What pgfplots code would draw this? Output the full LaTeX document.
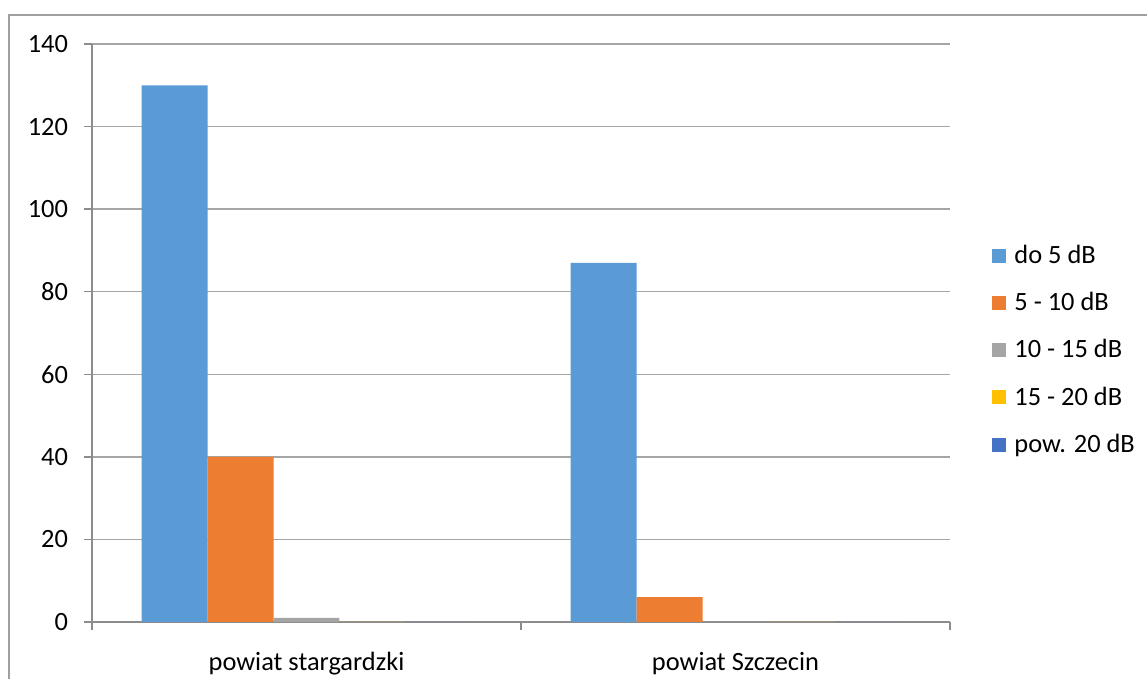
\documentclass[border=0pt]{standalone}
\usepackage{fontspec}
\setmainfont{Carlito}
\usepackage{pgfplots}
\pgfplotsset{compat=1.18}
\definecolor{cA}{HTML}{5B9BD5}
\definecolor{cB}{HTML}{ED7D31}
\definecolor{cC}{HTML}{A5A5A5}
\definecolor{cD}{HTML}{FFC000}
\definecolor{cE}{HTML}{4472C4}
\definecolor{gridc}{HTML}{A6A6A6}
\definecolor{axc}{HTML}{8C8C8C}
\definecolor{framec}{HTML}{A0A0A0}
\begin{document}
\begin{tikzpicture}
\path[use as bounding box] (-46pt,-28.5pt) rectangle (527.5pt,311pt);
\draw[framec,line width=0.8pt] (-41.5pt,-40pt) -- (-41.5pt,303.5pt) -- (540pt,303.5pt);
\begin{axis}[
  at={(0,0)}, anchor=south west,
  scale only axis, width=429pt, height=289pt,
  font=\fontsize{13.2}{15.8}\selectfont,
  /pgf/number format/assume math mode=true,
  ybar=0pt, bar width=0.1538,
  xmin=-0.5, xmax=1.5, ymin=0, ymax=140,
  ytick={0,20,...,140},
  xtick={-0.5,0.5,1.5}, xticklabels={},
  extra x ticks={0,1}, extra x tick labels={powiat stargardzki, powiat Szczecin},
  extra x tick style={major tick length=0pt, grid=none},
  axis x line*=bottom, axis y line*=left,
  axis line style={axc, line width=0.7pt},
  x axis line style={-}, y axis line style={-},
  tick style={axc, line width=0.7pt},
  major tick length=4pt,
  tick align=outside,
  ymajorgrids, grid style={gridc, line width=0.7pt},
  yticklabel style={xshift=-4.5pt},
  xticklabel style={yshift=-11.5pt},
  enlargelimits=false,
  legend cell align=left,
  legend style={draw=none, fill=none, at={(1.049,0.47)}, anchor=west,
    inner sep=0pt, row sep=8.9pt, font=\fontsize{13.2}{15.8}\selectfont,
    nodes={inner xsep=4pt}},
  legend image code/.code={\fill[#1] (0pt,-3.5pt) rectangle (7pt,3.5pt);},
]
\addplot[fill=cA, draw=none] coordinates {(0,130) (1,87)};
\addplot[fill=cB, draw=none] coordinates {(0,40) (1,6)};
\addplot[fill=cC, draw=none] coordinates {(0,1) (1,0)};
\addplot[fill=cD, draw=none] coordinates {(0,0) (1,0)};
\addplot[fill=cE, draw=none] coordinates {(0,0) (1,0)};
\legend{do 5 dB, 5 - 10 dB, 10 - 15 dB, 15 - 20 dB, pow. 20 dB}
\end{axis}
\end{tikzpicture}
\end{document}
